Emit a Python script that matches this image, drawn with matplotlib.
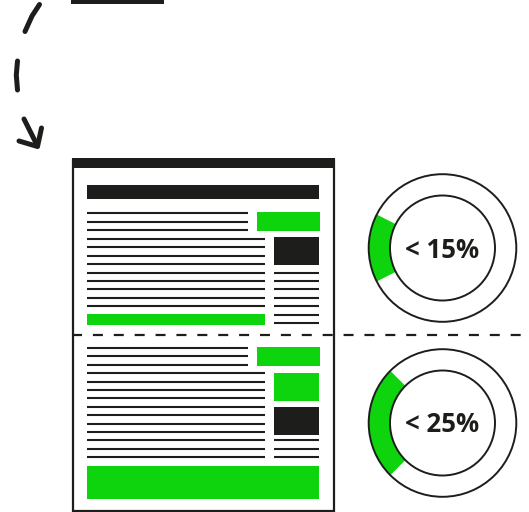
import matplotlib.pyplot as plt
from matplotlib.patches import Rectangle, Circle, Wedge

GREEN = '#0dd40d'
DARK = '#1d1d1b'

# donut labels and their shares
labels = ['< 15%', '< 25%']
shares = [15, 25]
donut_centers = [(442.5, 248), (442.5, 423)]

# text lines in the page (y in pixels)
top_short = [213, 221.5, 230]
top_long = [238.7, 247.2, 255.6, 264, 272.5, 281, 289.4, 297.8, 306.2]
top_side = [272.5, 281, 289.4, 297.8, 306.2, 314.7, 323]
bot_short = [348, 356.3, 364.7]
bot_long = [373.3, 381.7, 390, 398.3, 406.8, 415.2, 423.6, 432, 440.4, 448.8, 457.4]
bot_side = [440.4, 448.8, 457.4]

fig = plt.figure(figsize=(5.29, 5.12), dpi=100)
ax = fig.add_axes([0, 0, 1, 1])
ax.set_xlim(0, 529)
ax.set_ylim(512, 0)
ax.axis('off')


def box(x0, y0, x1, y1, color):
    ax.add_patch(Rectangle((x0, y0), x1 - x0, y1 - y0, facecolor=color, edgecolor='none'))


def hlines(ys, x0, x1):
    for y in ys:
        ax.plot([x0, x1], [y, y], color=DARK, lw=1.5, solid_capstyle='butt')


# bar at very top
box(71, 0, 164, 3.5, DARK)

# hand drawn dashed arrow
stroke = dict(color=DARK, lw=3.6, solid_capstyle='round', solid_joinstyle='round')
ax.plot([39.5, 32, 25], [4.5, 16, 31.5], **stroke)
ax.plot([17.5, 16.3, 17.5], [61, 75, 90], **stroke)
ax.plot([24, 37.5], [119, 146], **stroke)
ax.plot([19, 37.5, 41.5], [141, 146.5, 128], **stroke)

# page
ax.add_patch(Rectangle((72.5, 160), 261, 350.5, facecolor='white', edgecolor=DARK, lw=1.6))
box(72, 158, 334.5, 168, DARK)
box(87, 185, 319, 198.5, DARK)

# upper half
hlines(top_short, 87, 248)
box(257, 212, 320, 230.7, GREEN)
hlines(top_long, 87, 265)
box(274, 237, 319, 265, DARK)
hlines(top_side, 274, 319)
box(87, 314, 265, 324.7, GREEN)

# lower half
hlines(bot_short, 87, 248)
box(257, 347, 320, 365.7, GREEN)
hlines(bot_long, 87, 265)
box(274, 373, 319, 400.7, GREEN)
box(274, 407, 319, 435, DARK)
hlines(bot_side, 274, 319)
box(87, 466, 319, 498.7, GREEN)

# dashed separator
ax.plot([72, 529], [335.3, 335.3], color=DARK, lw=1.6, dashes=(4.5, 4.9))

# donuts
r_out, r_in = 73.8, 52.5
for (cx, cy), share, label in zip(donut_centers, shares, labels):
    span = share * 3.6
    ax.add_patch(Wedge((cx, cy), r_out, 180 - span / 2, 180 + span / 2,
                       width=r_out - r_in, facecolor=GREEN, edgecolor='none'))
    ax.add_patch(Circle((cx, cy), r_out, facecolor='none', edgecolor=DARK, lw=1.4))
    ax.add_patch(Circle((cx, cy), r_in, facecolor='none', edgecolor=DARK, lw=1.4))
    ax.text(cx, cy + 2, label, ha='center', va='center', fontsize=18.5,
            fontweight='bold', family='Open Sans', color=DARK)

fig.savefig('out.png', dpi=100)
